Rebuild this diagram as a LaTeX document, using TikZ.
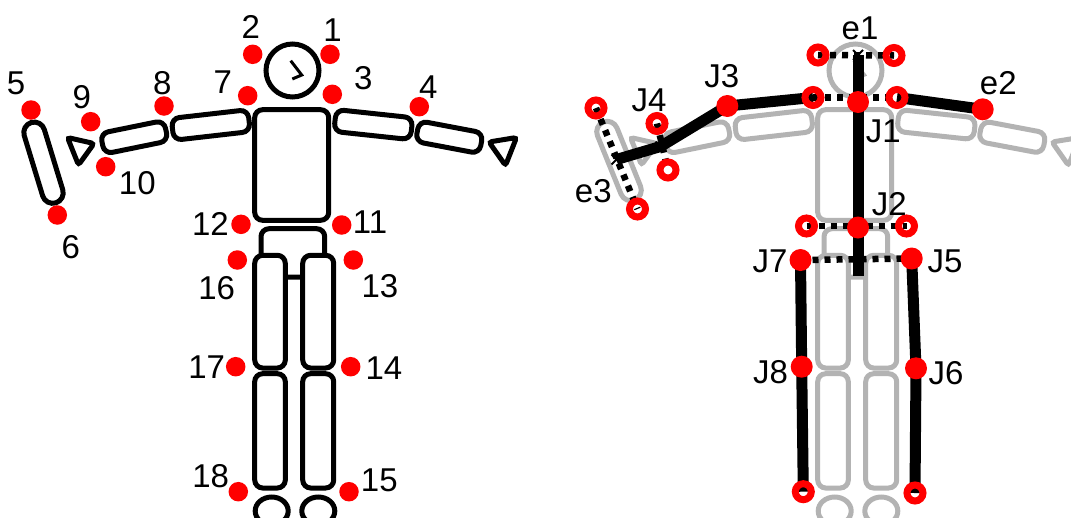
\documentclass[tikz,border=0pt]{standalone}
\usepackage{fontspec}
\setmainfont{Liberation Sans}
\definecolor{figgrey}{RGB}{179,179,179}
\definecolor{ptred}{RGB}{255,0,0}
\tikzset{
  limb/.style={draw=black, line width=5pt, fill=white, rounded corners=8pt, inner sep=0pt, minimum size=0pt},
  facemark/.style={draw=black, line width=3pt},
  kp/.style={circle, fill=ptred, minimum size=19.5pt, inner sep=0pt},
  ring/.style={circle, draw=ptred, line width=7pt, minimum size=16pt, inner sep=0pt},
  jdot/.style={circle, fill=ptred, minimum size=22pt, inner sep=0pt},
  bone/.style={draw=black, line width=11pt},
  dotline/.style={draw=black, line width=6.5pt, dash pattern=on 6pt off 6pt},
  xm/.style={draw=black, line width=1.8pt},
  lbl/.style={font=\fontsize{33}{39}\selectfont, inner sep=0pt},
  % stick figure body (without the detached hand bar)
  figure/.pic={
    \draw[limb] (261,228.7) rectangle (324.7,277);
    \draw[limb] (254.7,255.3) rectangle (285.3,368);
    \draw[limb] (302.7,255.3) rectangle (333.7,368);
    \draw[limb] (254.7,373.7) rectangle (285.3,488);
    \draw[limb] (302.7,373.7) rectangle (333.7,488);
    \draw[limb] (271.7,511) ellipse[x radius=16.5, y radius=14];
    \draw[limb] (318.3,511) ellipse[x radius=16.5, y radius=14];
    \draw[limb] (254.7,109.7) rectangle (328.7,220.3);
    \draw[limb] (292.5,70.5) circle[radius=26.5];
    \draw[facemark] (290.7,60.7) -- (301.7,75) -- (292.3,79);
    \node[limb, minimum width=77pt, minimum height=22pt, rotate=6.5] (uarmr) at (210.8,125) {};
    \node[limb, minimum width=65pt, minimum height=21pt, rotate=11.5] (farmr) at (134.2,137.2) {};
    \draw[limb, rounded corners=3pt] (67.5,137.5) -- (94,143.5) -- (78.5,165) -- cycle;
    \node[limb, minimum width=77pt, minimum height=22pt, rotate=-6.1] (uarml) at (373.3,124.6) {};
    \node[limb, minimum width=65pt, minimum height=21pt, rotate=-10.7] (farml) at (449.3,137.2) {};
    \draw[limb, rounded corners=3pt] (489,142) -- (516.5,137.5) -- (505.5,165.5) -- cycle;
  }
}
\begin{document}
\begin{tikzpicture}[x=1pt, y=-1pt]
\useasboundingbox (0,0) rectangle (1071,517);

% ---------- numbered key points ----------
\pic (L) at (0,0) {figure};
\node[limb, minimum width=21pt, minimum height=84pt, rounded corners=10.5pt, rotate=17] (barL) at (43.5,162.7) {};

\foreach \n/\px/\py in {1/330/54.3, 2/252.7/54.3, 3/332.3/94.3, 4/419.3/106.7,
    5/31/110, 6/57.3/215, 7/247.7/95.7, 8/164/106, 9/90.7/121.7, 10/105.7/166.7,
    11/341.7/225, 12/241/224.3, 13/353.3/260, 14/350.7/366.7, 15/349/491.7,
    16/237.3/260, 17/235.7/366.7, 18/238.3/491.7}
  \node[kp] (k\n) at (\px,\py) {};

\foreach \n/\px/\py in {1/332.5/30, 2/250.7/27.3, 3/363.3/78.3, 4/428.3/87.3,
    5/16/83.3, 6/70.7/246.7, 7/222.7/81.7, 8/162.3/82.7, 9/81.7/96.7, 10/137.3/182.7,
    11/370/222.5, 12/210.5/224, 13/380/286, 14/384/368.3, 15/379.3/480,
    16/216.7/288.3, 17/206.7/366.7, 18/210.7/476}
  \node[lbl] (t\n) at (\px,\py) {\n};

% ---------- joint skeleton ----------
\begin{scope}[limb/.append style={draw=figgrey}, facemark/.append style={draw=figgrey}]
  \pic (R) at (563,0) {figure};
  \node[limb, minimum width=21pt, minimum height=84pt, rounded corners=10.5pt, rotate=22] (barR) at (619,161) {};
\end{scope}

\coordinate (e1) at (858,55);
\coordinate (e1l) at (818,55);
\coordinate (e1r) at (894,55.5);
\coordinate (shl) at (813,97.5);
\coordinate (shr) at (897,97.5);
\coordinate (J1) at (858,102);
\coordinate (hipl) at (806.5,226);
\coordinate (hipr) at (906.5,226);
\coordinate (J2) at (858,227.5);
\coordinate (spend) at (858,276);
\coordinate (J7) at (800.5,260);
\coordinate (J5) at (911.7,258.5);
\coordinate (J8) at (801.7,366.7);
\coordinate (J6) at (916,368.3);
\coordinate (ftl) at (803.3,491.7);
\coordinate (ftr) at (915,493);
\coordinate (J3) at (727.3,106);
\coordinate (e2) at (982.7,109.3);
\coordinate (J4) at (660.5,146.5);
\coordinate (j4a) at (657,123.5);
\coordinate (j4b) at (668,170);
\coordinate (e3) at (616.5,159.5);
\coordinate (e3a) at (596,108);
\coordinate (e3b) at (637.5,209);

% bones
\draw[bone] (e1) -- (spend);
\draw[bone] (shl) -- (J3) -- (J4) -- (e3);
\draw[bone] (shr) -- (e2);
\draw[bone] (J7) -- (J8) -- (ftl);
\draw[bone] (J5) -- (J6) -- (ftr);

% dotted cross lines
\draw[dotline] (e1l) -- (e1r);
\draw[dotline] (shl) -- (shr);
\draw[dotline] (hipl) -- (hipr);
\draw[dotline] (J7) -- (J5);
\draw[dotline] (j4a) -- (j4b);
\draw[dotline] (e3a) -- (e3b);

% centre marks
\foreach \c in {e1, J4, e3}
  \draw[xm] (\c) ++(-5,-5) -- ++(10,10) (\c) ++(-5,5) -- ++(10,-10);

% end points and joints
\foreach \c in {e1l, e1r, shl, shr, hipl, hipr, ftl, ftr, j4a, j4b, e3a, e3b}
  \node[ring] (r\c) at (\c) {};
\foreach \c in {J1, J2, J3, J5, J6, J7, J8, e2}
  \node[jdot] (d\c) at (\c) {};

% labels
\node[lbl] (le1) at (860,28) {e1};
\node[lbl] (lJ1) at (883.3,131.7) {J1};
\node[lbl] (le2) at (998.3,83.5) {e2};
\node[lbl] (lJ2) at (889.3,204) {J2};
\node[lbl] (lJ3) at (721.7,76) {J3};
\node[lbl] (lJ4) at (649,100) {J4};
\node[lbl] (le3) at (593.3,191) {e3};
\node[lbl] (lJ7) at (770,261) {J7};
\node[lbl] (lJ5) at (945,261.7) {J5};
\node[lbl] (lJ8) at (770.5,371.7) {J8};
\node[lbl] (lJ6) at (946,373.3) {J6};
\end{tikzpicture}
\end{document}
